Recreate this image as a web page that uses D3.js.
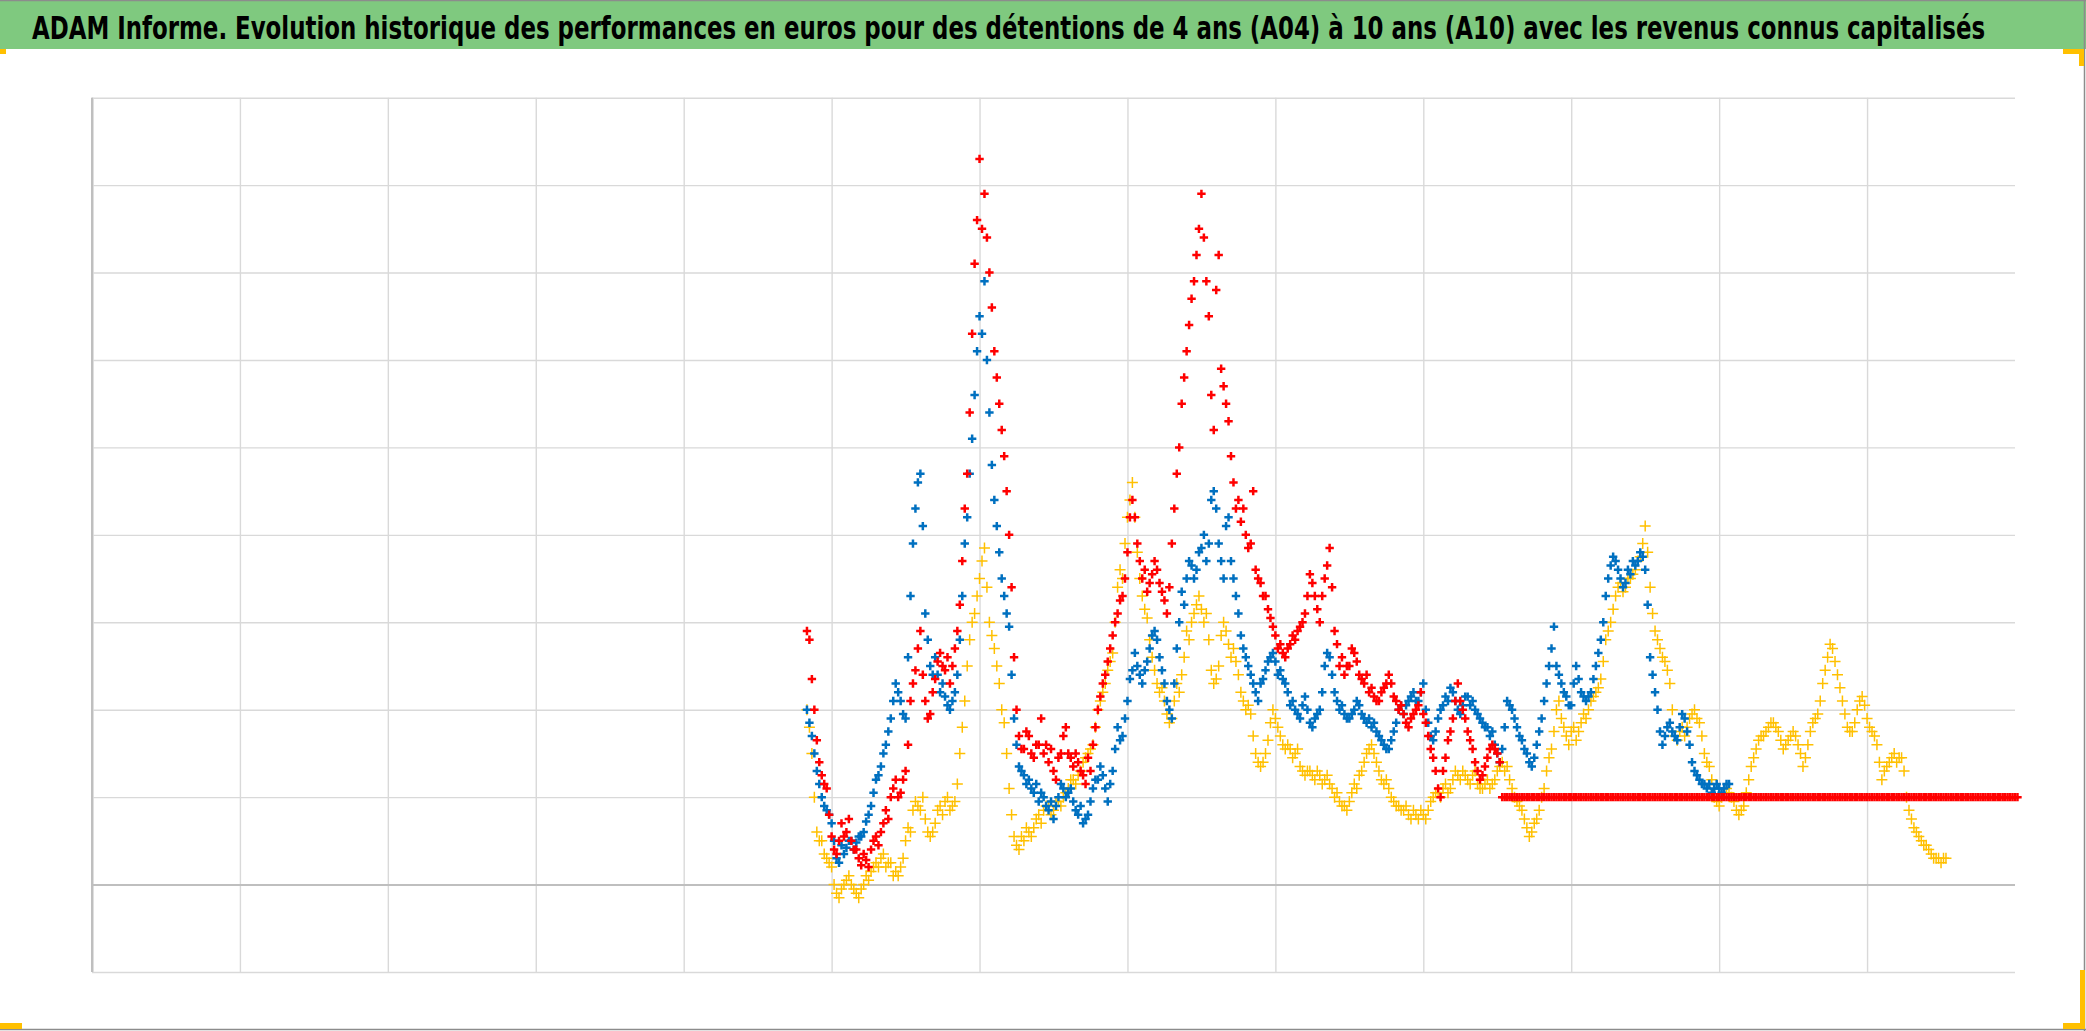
<!DOCTYPE html>
<html><head><meta charset="utf-8">
<script src="https://cdn.jsdelivr.net/npm/d3@7"></script>
<style>html,body{margin:0;padding:0;background:#fff}svg{display:block}</style>
</head><body>
<script>
const titleText = "ADAM Informe. Evolution historique des performances en euros pour des détentions de 4 ans (A04) à 10 ans (A10) avec les revenus connus capitalisés";
const xGridTicks = [0,1,2,3,4,5,6,7,8,9,10,11,12];
const yGridTicks = [-1,0,1,2,3,4,5,6,7,8,9];
const firstPeriod = 290;      // index of the first observation
const periodsPerUnit = 60;    // observations per grid column

const seriesA10 = [ // red
 2.9,2.8, 2.35,2.0, 1.65,1.4, 1.25,1.15, 1.1,0.8,
 0.55,0.4, 0.35,0.5, 0.7,0.55, 0.6,0.75, 0.5,0.4,
 0.4,0.3, 0.22,0.35, 0.28,0.2, 0.4,0.5, 0.55,0.45,
 0.6,0.7, 0.85,0.75, 1.0,1.1, 1.2,1.0, 1.05,1.2,
 1.3,1.6, 2.1,2.3, 2.45,2.7, 2.9,2.4, 2.1,1.9,
 1.95,2.2, 2.35,2.55, 2.65,2.5, 2.45,2.6, 2.3,2.5,
 2.7,2.9, 3.2,3.7, 4.3,4.7, 5.4,6.3, 7.1,7.6,
 8.3,7.5, 7.9,7.4, 7.0,6.6, 6.1,5.8, 5.5,5.2,
 4.9,4.5, 4.0,3.4, 2.6,2.0, 1.7,1.55, 1.55,1.75,
 1.7,1.5, 1.45,1.6, 1.6,1.9, 1.5,1.6, 1.4,1.55,
 1.3,1.2, 1.45,1.5, 1.7,1.8, 1.5,1.45, 1.35,1.5,
 1.4,1.3, 1.25,1.15, 1.45,1.3, 1.6,1.8, 2.0,2.15,
 2.3,2.4, 2.55,2.7, 2.85,3.0, 3.1,3.25, 3.3,3.5,
 3.8,4.2, 4.4,4.2, 3.9,3.7, 3.5,3.6, 3.35,3.45,
 3.55,3.7, 3.6,3.45, 3.35,3.25, 3.1,3.4, 3.9,4.3,
 4.7,5.0, 5.5,5.8, 6.1,6.4, 6.7,6.9, 7.2,7.5,
 7.9,7.4, 6.9,6.5, 5.6,5.2, 6.8,7.2, 5.9,5.7,
 5.5,5.3, 4.9,4.6, 4.3,4.4, 4.15,4.3, 4.0,3.85,
 3.9,4.5, 3.6,3.5, 3.45,3.3, 3.3,3.15, 3.05,2.95,
 2.85,2.7, 2.75,2.65, 2.6,2.7, 2.75,2.85, 2.8,2.9,
 2.95,3.0, 3.1,3.3, 3.55,3.45, 3.3,3.15, 3.0,3.3,
 3.5,3.65, 3.85,3.4, 2.9,2.75, 2.5,2.6, 2.4,2.5,
 2.5,2.7, 2.65,2.55, 2.4,2.35, 2.3,2.4, 2.2,2.25,
 2.15,2.1, 2.1,2.2, 2.25,2.3, 2.4,2.3, 2.15,2.1,
 2.0,2.05, 1.95,1.85, 1.8,1.9, 1.95,2.0, 2.05,2.2,
 1.95,1.85, 1.7,1.55, 1.45,1.3, 1.1,1.0, 1.3,1.45,
 1.65,1.75, 1.9,2.1, 2.3,2.1, 2.0,1.9, 1.75,1.65,
 1.55,1.4, 1.3,1.2, 1.25,1.35, 1.45,1.55, 1.6,1.55,
 1.5,1.4,
 1,1,1,1,1,1,1,1,1,1,1,1,1,1,1,
 1,1,1,1,1,1,1,1,1,1,1,1,1,1,1,
 1,1,1,1,1,1,1,1,1,1,1,1,1,1,1,
 1,1,1,1,1,1,1,1,1,1,1,1,1,1,1,
 1,1,1,1,1,1,1,1,1,1,1,1,1,1,1,
 1,1,1,1,1,1,1,1,1,1,1,1,1,1,1,
 1,1,1,1,1,1,1,1,1,1,1,1,1,1,1,
 1,1,1,1,1,1,1,1,1,1,1,1,1,1,1,
 1,1,1,1,1,1,1,1,1,1,1,1,1,1,1,
 1,1,1,1,1,1,1,1,1,1,1,1,1,1,1,
 1,1,1,1,1,1,1,1,1,1,1,1,1,1,1,
 1,1,1,1,1,1,1,1,1,1,1,1,1,1,1,
 1,1,1,1,1,1,1,1,1,1,1,1,1,1,1,
 1,1,1,1,1,1,1,1,1,1,1,1,1,1,1
];

const seriesA07 = [ // blue
 2.0,1.85, 1.7,1.5, 1.3,1.15, 1.0,0.9, 0.85,0.8,
 0.7,0.5, 0.3,0.25, 0.45,0.35, 0.42,0.5, 0.5,0.4,
 0.48,0.55, 0.55,0.6, 0.72,0.8, 0.9,1.05, 1.2,1.25,
 1.35,1.5, 1.6,1.75, 1.9,2.1, 2.3,2.2, 2.1,1.95,
 1.9,2.6, 3.3,3.9, 4.3,4.6, 4.7,4.1, 3.1,2.8,
 2.5,2.4, 2.6,2.4, 2.2,2.3, 2.15,2.05, 2.0,2.1,
 2.2,2.4, 2.8,3.3, 3.9,4.2, 4.7,5.1, 5.6,6.1,
 6.5,6.3, 6.9,6.0, 5.4,4.8, 4.4,4.1, 3.8,3.5,
 3.3,3.1, 2.95,2.4, 1.9,1.6, 1.35,1.3, 1.25,1.15,
 1.2,1.1, 1.05,1.15, 0.95,1.05, 1.0,0.9, 0.85,0.95,
 0.75,0.9, 1.0,1.15, 1.1,1.0, 1.05,1.1, 0.95,0.85,
 0.8,0.9, 0.7,0.75, 0.8,0.95, 1.1,1.2, 1.2,1.35,
 1.25,1.1, 0.95,1.15, 1.3,1.55, 1.8,1.65, 1.7,1.9,
 2.1,2.35, 2.45,2.65, 2.5,2.4, 2.3,2.45, 2.55,2.7,
 2.85,2.9, 2.8,2.6, 2.45,2.3, 2.1,2.0, 1.9,2.3,
 2.7,3.0, 3.35,3.2, 3.5,3.7, 3.65,3.5, 3.6,3.8,
 3.85,4.0, 3.7,3.9, 4.4,4.5, 4.3,3.9, 3.7,3.5,
 4.1,4.2, 3.7,3.5, 3.3,3.1, 2.85,2.7, 2.6,2.5,
 2.4,2.3, 2.2,2.1, 2.3,2.35, 2.45,2.55, 2.6,2.65,
 2.55,2.4, 2.45,2.35, 2.3,2.2, 2.05,2.1, 2.0,1.95,
 1.9,2.05, 2.15,2.0, 1.85,1.8, 1.9,1.95, 2.0,2.2,
 2.5,2.65, 2.6,2.4, 2.2,2.1, 2.0,2.05, 1.95,1.9,
 1.9,1.95, 2.0,2.1, 2.05,1.95, 1.9,1.85, 1.9,1.8,
 1.85,1.75, 1.7,1.65, 1.6,1.55, 1.55,1.65, 1.75,1.85,
 2.0,2.05, 1.95,2.05, 2.1,2.15, 2.2,2.1, 2.1,2.2,
 2.3,2.0, 1.85,1.7, 1.65,1.75, 1.9,2.0, 2.05,2.15,
 2.1,2.25, 2.2,2.1, 2.0,1.95, 2.05,2.15, 2.15,2.05,
 2.1,2.0, 1.95,1.9, 1.85,1.8, 1.8,1.7, 1.75,1.6,
 1.5,1.4, 1.55,1.8, 2.1,2.05, 2.0,1.9, 1.8,1.7,
 1.65,1.55, 1.5,1.4, 1.35,1.45, 1.6,1.75, 1.9,2.1,
 2.3,2.5, 2.7,2.95, 2.5,2.4, 2.3,2.2, 2.15,2.05,
 2.05,2.3, 2.5,2.35, 2.2,2.15, 2.1,2.15, 2.2,2.35,
 2.5,2.65, 2.8,3.0, 3.3,3.5, 3.65,3.75, 3.7,3.6,
 3.5,3.4, 3.45,3.6, 3.55,3.7, 3.65,3.7, 3.8,3.75,
 3.6,3.2, 2.6,2.4, 2.2,2.0, 1.75,1.6, 1.7,1.8,
 1.85,1.75, 1.7,1.65, 1.8,1.95, 1.9,1.75, 1.6,1.4,
 1.3,1.25, 1.2,1.15, 1.15,1.1, 1.15,1.05, 1.1,1.15,
 1.1,1.05, 1.1,1.15, 1.15
];

const seriesA04 = [ // yellow
 2.0,1.8, 1.5,1.0, 0.6,0.5, 0.5,0.35, 0.3,0.25,
 0.2,0.0, -0.1,-0.15, -0.05,0.0, 0.05,0.1, 0.0,-0.05,
 -0.1,-0.15, -0.05,0.0, 0.1,0.05, 0.15,0.2, 0.25,0.2,
 0.3,0.35, 0.2,0.25, 0.25,0.1, 0.15,0.1, 0.2,0.3,
 0.5,0.65, 0.6,0.85, 0.95,0.9, 0.85,1.0, 0.75,0.6,
 0.55,0.6, 0.7,0.85, 0.9,0.8, 0.95,1.0, 0.85,0.9,
 0.95,1.15, 1.5,1.8, 2.1,2.5, 2.8,3.0, 3.1,3.3,
 3.5,3.7, 3.85,3.4, 3.0,2.85, 2.7,2.5, 2.3,2.0,
 1.85,1.5, 1.1,0.8, 0.55,0.45, 0.4,0.55, 0.5,0.65,
 0.6,0.55, 0.65,0.75, 0.8,0.7, 0.85,0.9, 0.9,0.8,
 0.85,0.95, 0.95,0.9, 1.0,1.05, 1.1,1.2, 1.2,1.15,
 1.25,1.3, 1.4,1.45, 1.5,1.55, 1.6,1.8, 2.0,2.1,
 2.2,2.3, 2.45,2.55, 2.65,3.0, 3.4,3.6, 3.5,3.9,
 4.2,4.4, 4.6,4.2, 3.8,3.5, 3.3,3.15, 3.05,2.8,
 2.6,2.45, 2.3,2.2, 2.25,2.1, 1.95,1.85, 1.9,2.1,
 2.3,2.2, 2.4,2.6, 2.9,2.8, 3.0,3.1, 3.2,3.3,
 3.15,3.0, 3.1,2.8, 2.45,2.3, 2.35,2.5, 2.85,3.0,
 2.9,2.75, 2.6,2.7, 2.55,2.4, 2.2,2.1, 2.0,2.05,
 1.95,1.7, 1.5,1.4, 1.35,1.4, 1.5,1.65, 1.85,2.0,
 1.9,1.8, 1.7,1.6, 1.55,1.6, 1.55,1.45, 1.5,1.55,
 1.35,1.3, 1.25,1.3, 1.3,1.25, 1.2,1.3, 1.25,1.15,
 1.2,1.25, 1.15,1.1, 1.0,1.05, 0.95,0.9, 0.9,0.85,
 0.95,1.05, 1.15,1.1, 1.25,1.3, 1.4,1.5, 1.55,1.6,
 1.5,1.4, 1.3,1.2, 1.15,1.2, 1.1,1.0, 0.95,0.9,
 0.9,0.85, 0.85,0.9, 0.8,0.75, 0.85,0.8, 0.75,0.85,
 0.8,0.75, 0.85,0.95, 1.0,1.05, 1.05,1.0, 1.1,1.15,
 1.05,1.1, 1.2,1.3, 1.25,1.2, 1.3,1.25, 1.2,1.15,
 1.25,1.3, 1.15,1.1, 1.1,1.15, 1.2,1.1, 1.15,1.2,
 1.3,1.35, 1.4,1.3, 1.35,1.2, 1.1,1.0, 0.95,0.9,
 0.85,0.75, 0.65,0.55, 0.6,0.7, 0.75,0.85, 1.0,1.1,
 1.3,1.45, 1.55,1.75, 2.0,2.1, 1.9,1.8, 1.7,1.6,
 1.75,1.8, 1.65,1.75, 1.85,1.95, 1.9,2.0, 2.1,2.15,
 2.2,2.25, 2.35,2.55, 2.8,2.9, 3.0,3.15, 3.3,3.4,
 3.45,3.35, 3.4,3.5, 3.5,3.55, 3.6,3.7, 3.75,3.9,
 4.1,3.8, 3.4,3.1, 2.9,2.8, 2.7,2.6, 2.55,2.45,
 2.3,2.0, 1.7,1.65, 1.75,1.8, 1.7,1.8, 1.9,1.95,
 2.0,1.9, 1.85,1.7, 1.5,1.4, 1.35,1.2, 1.0,0.95,
 0.9,1.0, 1.05,1.1, 1.05,1.0, 0.95,0.85, 0.8,0.85,
 0.9,1.05, 1.2,1.35, 1.45,1.55, 1.65,1.7, 1.7,1.75,
 1.8,1.85, 1.85,1.8, 1.75,1.65, 1.55,1.6, 1.65,1.7,
 1.75,1.7, 1.6,1.5, 1.35,1.45, 1.6,1.75, 1.85,1.9,
 1.95,2.1, 2.3,2.45, 2.6,2.75, 2.7,2.55, 2.4,2.25,
 2.1,1.95, 1.8,1.75, 1.75,1.85, 2.0,2.1, 2.15,2.05,
 1.9,1.8, 1.75,1.7, 1.6,1.4, 1.2,1.3, 1.35,1.4,
 1.45,1.5, 1.4,1.45, 1.45,1.3, 1.0,0.85, 0.75,0.65,
 0.6,0.55, 0.5,0.45, 0.45,0.4, 0.35,0.3, 0.3,0.3,
 0.25,0.3, 0.3
];

const W = 2086, H = 1031;
const plot = {left: 92, right: 2015, top: 97.7, bottom: 972};

const svg = d3.select("body").append("svg").attr("width", W).attr("height", H);
svg.append("rect").attr("width", W).attr("height", H).attr("fill", "#ffffff");

// title band
svg.append("rect").attr("x", 0).attr("y", 0).attr("width", W).attr("height", 49).attr("fill", "#7fc97f");
const title = svg.append("text").attr("x", 0).attr("y", 0)
  .attr("font-family", "'DejaVu Sans Condensed', 'DejaVu Sans', sans-serif")
  .attr("font-stretch", "condensed")
  .attr("font-weight", "bold").attr("font-size", 30).attr("fill", "#000")
  .text(titleText);
const natural = title.node().getComputedTextLength();
const targetW = 1954;
const fs = 30 * targetW / natural;
const sy = Math.min(1.35, 23.5 / (0.729 * fs));
title.attr("font-size", fs.toFixed(2))
  .attr("transform", `translate(32,38.5) scale(1,${sy.toFixed(3)})`);

const x = d3.scaleLinear().domain([0, 13]).range([plot.left, plot.right]);
const y = d3.scaleLinear().domain([-1, 9]).range([plot.bottom, plot.top]);

// vertical gridlines
const gx = svg.append("g").attr("transform", `translate(0,${plot.bottom})`)
  .call(d3.axisBottom(x).tickValues(xGridTicks).tickSize(-(plot.bottom - plot.top)).tickFormat(""));
gx.select(".domain").remove();
gx.selectAll(".tick line").attr("stroke", d => d === 0 ? "#bfbfbf" : "#d9d9d9").attr("stroke-width", d => d === 0 ? 2 : 1.4);

// horizontal gridlines
const gy = svg.append("g").attr("transform", `translate(${plot.left},0)`)
  .call(d3.axisLeft(y).tickValues(yGridTicks).tickSize(-(plot.right - plot.left)).tickFormat(""));
gy.select(".domain").remove();
gy.selectAll(".tick line").attr("stroke", d => d === 0 ? "#bfbfbf" : "#d9d9d9").attr("stroke-width", d => d === 0 ? 2 : 1.4);
svg.append("line").attr("x1", x(0)).attr("x2", x(0)).attr("y1", plot.top).attr("y2", plot.bottom)
  .attr("stroke", "#bfbfbf").attr("stroke-width", 2);

const plus = s => `M${-s},0H${s}M0,${-s}V${s}`;
function drawSeries(vals, color, size, width) {
  svg.append("g").selectAll("path").data(vals).join("path")
    .attr("transform", (d, i) => `translate(${x((firstPeriod + i) / periodsPerUnit)},${y(d)})`)
    .attr("d", plus(size)).attr("fill", "none")
    .attr("stroke", color).attr("stroke-width", width);
}
drawSeries(seriesA04, "#ffc000", 5.5, 1.5);
drawSeries(seriesA07, "#0070c0", 4.2, 2.5);
drawSeries(seriesA10, "#ff0000", 4.2, 2.5);

// outer frame
svg.append("line").attr("x1", 0).attr("x2", W).attr("y1", 0.5).attr("y2", 0.5).attr("stroke", "#8c8c8c").attr("stroke-width", 1.5);
svg.append("line").attr("x1", W - 1.5).attr("x2", W - 1.5).attr("y1", 0).attr("y2", H).attr("stroke", "#8c8c8c").attr("stroke-width", 1.5);
svg.append("line").attr("x1", 0).attr("x2", W).attr("y1", H - 1.5).attr("y2", H - 1.5).attr("stroke", "#8c8c8c").attr("stroke-width", 1.5);

// selection corner marks
const yc = "#ffc000";
svg.append("rect").attr("x", 0).attr("y", 49).attr("width", 6).attr("height", 5).attr("fill", yc);
svg.append("path").attr("d", "M2063,49H2084V66H2079V54H2063Z").attr("fill", yc);
svg.append("rect").attr("x", 0).attr("y", 1023).attr("width", 22).attr("height", 6).attr("fill", yc);
svg.append("path").attr("d", "M2080,970H2085V1029H2063V1023H2080Z").attr("fill", yc);
</script>
</body></html>
